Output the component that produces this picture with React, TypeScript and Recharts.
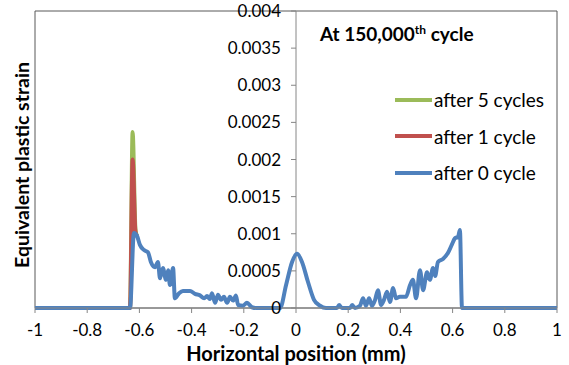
import { LineChart, Line, XAxis, YAxis, ReferenceLine, ReferenceDot, ReferenceArea } from 'recharts';

const xTicks = [-1, -0.8, -0.6, -0.4, -0.2, 0, 0.2, 0.4, 0.6, 0.8, 1];
const yTicks = [0, 0.0005, 0.001, 0.0015, 0.002, 0.0025, 0.003, 0.0035, 0.004];
const yTickLabels = ['0', '0.0005', '0.001', '0.0015', '0.002', '0.0025', '0.003', '0.0035', '0.004'];

// after 0 cycle: whole profile
const positions0 = [
  -1, -0.636, -0.621, -0.609, -0.598, -0.582, -0.567, -0.556, -0.54, -0.529, -0.521, -0.51, -0.498, -0.49,
  -0.483, -0.471, -0.464, -0.448, -0.433, -0.406, -0.387, -0.368, -0.352, -0.341, -0.33, -0.322, -0.31,
  -0.299, -0.287, -0.276, -0.264, -0.253, -0.241, -0.23, -0.222, -0.203, -0.188, -0.169, -0.153, -0.061,
  -0.038, -0.015, 0.004, 0.023, 0.046, 0.069, 0.092, 0.115, 0.157, 0.165, 0.176, 0.207, 0.215, 0.226,
  0.245, 0.257, 0.268, 0.28, 0.291, 0.303, 0.314, 0.326, 0.337, 0.349, 0.36, 0.372, 0.383, 0.398, 0.421,
  0.437, 0.448, 0.46, 0.475, 0.487, 0.502, 0.513, 0.525, 0.533, 0.544, 0.563, 0.582, 0.598, 0.609, 0.621,
  0.628, 0.636, 1,
];
const after0 = [
  0, 0, 0.00101, 0.00097, 0.00085, 0.00078, 0.00075, 0.00062, 0.00055, 0.00062, 0.0004, 0.00054, 0.00038, 0.00051,
  0.00031, 0.00054, 0.00013, 0.0002, 0.00023, 0.00023, 0.00019, 0.00017, 0.00013, 0.00016, 0.00012, 0.0002, 0.00007,
  0.00018, 0.00011, 0.00015, 0.00007, 0.00015, 0.0001, 0.00017, 0.00004, 0.00003, 0.00007, 0.00001, 0, 0,
  0.00031, 0.00062, 0.00073, 0.00062, 0.00035, 0.00011, 0.00003, 0, 0, 0.00004, 0, 0, 0.00004, 0,
  0.00003, 0.00013, 0.00003, 0.00013, 0.00003, 0.00011, 0.00024, 0.00004, 0.00011, 0.00022, 0.00008, 0.00027, 0.00013, 0.00015, 0.00015,
  0.00031, 0.00038, 0.00013, 0.00051, 0.00024, 0.00048, 0.00038, 0.00054, 0.00043, 0.00062, 0.00066, 0.00074, 0.00086, 0.00094, 0.00096,
  0.00105, 0, 0,
];

// after 1 and 5 cycles differ only at the left spike; elsewhere they lie under the blue curve
const positionsSpike = [-0.66, -0.636, -0.626, -0.615, -0.609];
const after1 = [0, 0, 0.002, 0.00102, 0.00097];
const after5 = [0, 0, 0.00237, 0.00106, 0.00097];

const toPoints = (xs: number[], ys: number[]) => xs.map((x, i) => ({ x, y: ys[i] }));

const series = [
  { name: 'after 5 cycles', color: '#9BBB59', data: toPoints(positionsSpike, after5) },
  { name: 'after 1 cycle', color: '#C0504D', data: toPoints(positionsSpike, after1) },
  { name: 'after 0 cycle', color: '#4F81BD', data: toPoints(positions0, after0) },
];

const font = 'Lato, "Open Sans", sans-serif';

function YTick(props: any) {
  const { cx, cy, label } = props;
  return (
    <g>
      <line x1={cx - 5} y1={cy} x2={cx} y2={cy} stroke="#868686" />
      <text x={cx - 15} y={cy} dy="0.36em" textAnchor="end" fontSize={17} fill="#000" fontFamily={font}>
        {label}
      </text>
    </g>
  );
}

export default function App() {
  return (
    <div style={{ position: 'absolute', left: 0, top: 0, width: 569, height: 365, fontFamily: font }}>
      <LineChart width={569} height={365} margin={{ top: 11, right: 12, left: 35, bottom: 27 }}>
        <ReferenceArea x1={-1} x2={1} y1={0} y2={0.004} fill="none" stroke="#595959" strokeWidth={1} />
        <XAxis
          dataKey="x"
          type="number"
          domain={[-1, 1]}
          ticks={xTicks}
          allowDataOverflow
          height={30}
          tickSize={5}
          tickMargin={11}
          axisLine={{ stroke: '#868686' }}
          tickLine={{ stroke: '#868686' }}
          tick={{ fill: '#000', fontSize: 17, fontFamily: font }}
          tickFormatter={(v: number) => String(Number(v.toFixed(1)))}
        />
        <YAxis hide type="number" domain={[0, 0.004]} />
        <ReferenceLine x={0} stroke="#868686" />
        {yTicks.map((v, i) => (
          <ReferenceDot key={v} x={0} y={v} r={0} shape={(p: any) => <YTick {...p} label={yTickLabels[i]} />} />
        ))}
        {series.map((s) => (
          <Line
            key={s.name}
            data={s.data}
            dataKey="y"
            name={s.name}
            stroke={s.color}
            strokeWidth={4}
            strokeLinejoin="round"
            dot={false}
            type="monotone"
            isAnimationActive={false}
          />
        ))}
      </LineChart>

      <div style={{ position: 'absolute', left: 0, top: 0, width: 569, height: 365, pointerEvents: 'none' }}>
        <div
          style={{
            position: 'absolute', left: 21, top: 165, transform: 'translate(-50%, -50%) rotate(-90deg)',
            whiteSpace: 'nowrap', fontWeight: 700, fontSize: 19.5,
          }}
        >
          Equivalent plastic strain
        </div>
        <div
          style={{
            position: 'absolute', left: 296, top: 353, transform: 'translate(-50%, -50%)',
            whiteSpace: 'nowrap', fontWeight: 700, fontSize: 20,
          }}
        >
          Horizontal position (mm)
        </div>
        <div
          style={{
            position: 'absolute', left: 320, top: 22, whiteSpace: 'nowrap', fontWeight: 700, fontSize: 19, lineHeight: '23px',
          }}
        >
          At 150,000<span style={{ fontSize: 12, position: 'relative', top: -7 }}>th</span> cycle
        </div>
        {series.map((s, i) => (
          <div
            key={s.name}
            style={{ position: 'absolute', left: 395, top: 88 + i * 36.5, height: 23, display: 'flex', alignItems: 'center', whiteSpace: 'nowrap' }}
          >
            <div style={{ width: 37, height: 4, background: s.color }} />
            <span style={{ marginLeft: 2, fontSize: 19, lineHeight: '23px' }}>{s.name}</span>
          </div>
        ))}
      </div>
    </div>
  );
}
